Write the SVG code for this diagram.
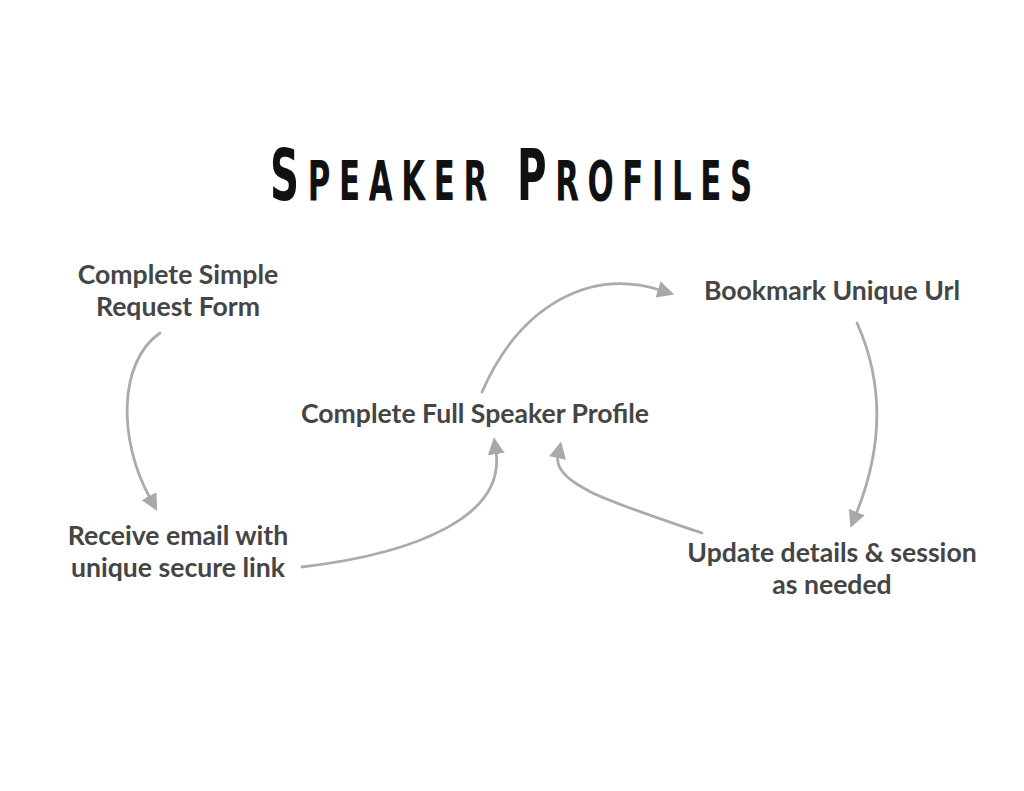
<svg xmlns="http://www.w3.org/2000/svg" width="1024" height="791" viewBox="0 0 1024 791">
<defs>
<style>
.lbl{font-family:Lato,"Open Sans","Liberation Sans",sans-serif;font-weight:700;font-size:26.6px;fill:#454545;text-anchor:middle}
.ttl{font-family:"DejaVu Sans","Liberation Sans",sans-serif;font-weight:700;fill:#111}
.arr{fill:none;stroke:#ababab;stroke-width:2.8;stroke-linecap:round;marker-end:url(#ah)}
</style>
<marker id="ah" viewBox="0 0 16 16" refX="2" refY="8" markerWidth="17" markerHeight="17" markerUnits="userSpaceOnUse" orient="auto">
<path d="M0,0 L16,8 L0,16 z" fill="#a9a9a9"/>
</marker>
</defs>
<rect width="1024" height="791" fill="#fff"/>
<g id="title">
<text class="ttl" transform="translate(270,200) scale(0.56,1)" textLength="388" lengthAdjust="spacing"><tspan font-size="72">S</tspan><tspan font-size="55">PEAKER</tspan></text>
<text class="ttl" transform="translate(517,200) scale(0.56,1)" textLength="420" lengthAdjust="spacing"><tspan font-size="72">P</tspan><tspan font-size="55">ROFILES</tspan></text>
</g>
<g id="connectors">
<path class="arr" d="M160,333 C118,362 118,440 150,498"/>
<path class="arr" d="M302,567 C420,553 505,515 496,452"/>
<path class="arr" d="M482,392 C520,305 590,268 660,290"/>
<path class="arr" d="M857,323 C887,390 880,455 856,514"/>
<path class="arr" d="M702,533 C620,505 552,485 558,456"/>
</g>
<g id="n1"><text class="lbl" x="178" y="284">Complete Simple</text><text class="lbl" x="178" y="316">Request Form</text></g>
<g id="n2"><text class="lbl" x="178" y="545">Receive email with</text><text class="lbl" x="178" y="577">unique secure link</text></g>
<g id="n3"><text class="lbl" x="475" y="423">Complete Full Speaker Profile</text></g>
<g id="n4"><text class="lbl" x="832" y="300">Bookmark Unique Url</text></g>
<g id="n5"><text class="lbl" x="832" y="562">Update details &amp; session</text><text class="lbl" x="832" y="594">as needed</text></g>
</svg>
